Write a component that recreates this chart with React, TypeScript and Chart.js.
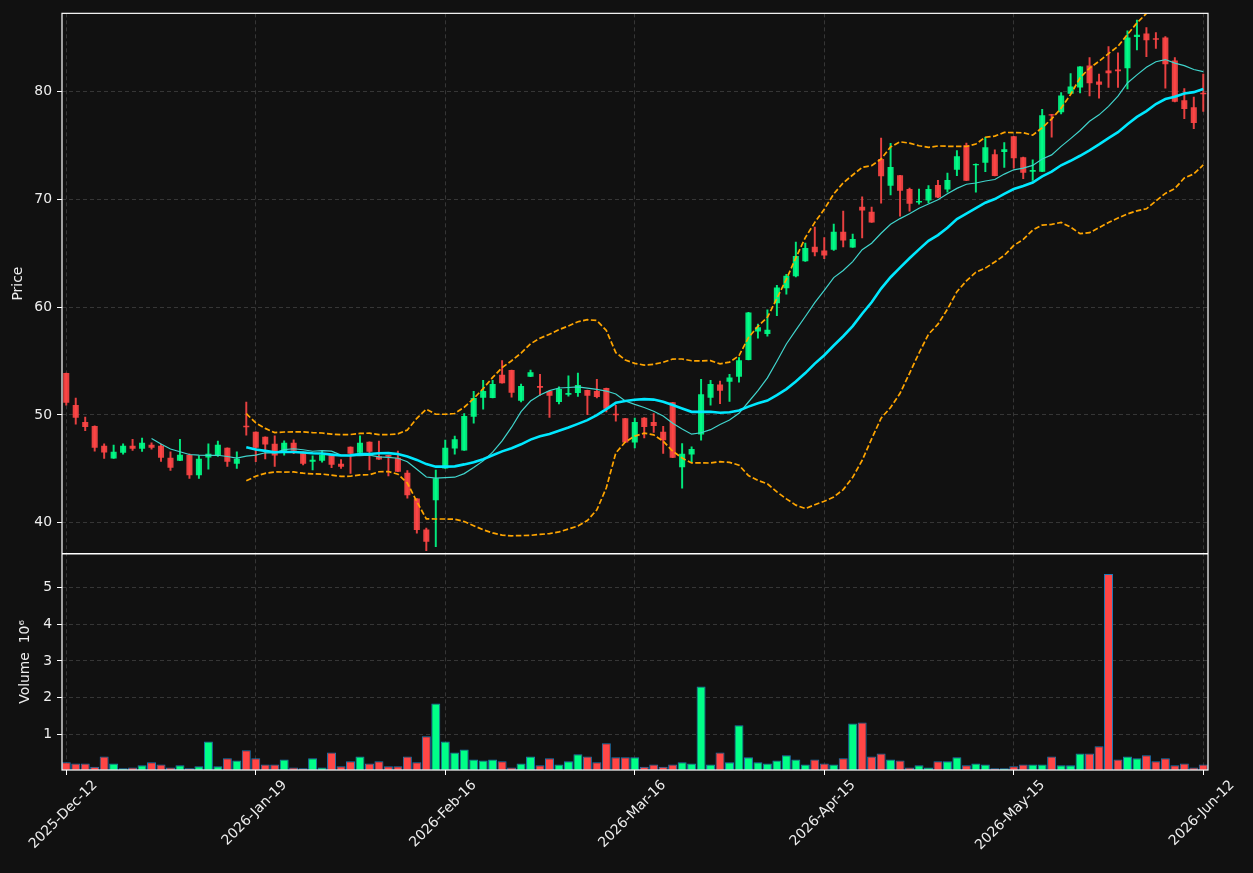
import React, { useEffect, useRef } from 'react';
import { Chart, registerables } from 'chart.js';

Chart.register(...registerables);

// ---- data ----
const opens = [
  53.88, 50.92, 49.35, 48.98, 47.14, 45.97, 46.49, 47.14, 46.86, 47.23,
  47.14, 46.03, 45.75, 46.31, 44.4, 46.06, 46.24, 46.95, 45.48, 48.92,
  48.43, 47.97, 47.32, 46.58, 47.41, 46.58, 45.66, 45.75, 46.31, 45.48,
  47.05, 46.49, 47.51, 46.18, 46.28, 46.03, 44.64, 42.24, 39.38, 42.09,
  45.04, 46.89, 46.7, 49.84, 51.6, 51.57, 53.72, 54.16, 51.32, 53.54,
  52.68, 52.22, 51.2, 51.87, 52.03, 52.31, 52.22, 52.49, 50.09, 49.69,
  47.44, 49.75, 49.35, 48.43, 51.17, 45.14, 46.34, 48.18, 51.6, 52.83,
  53.07, 53.54, 55.1, 57.73, 57.51, 60.37, 61.75, 62.86, 64.25, 65.6,
  65.26, 65.33, 66.99, 65.54, 69.3, 68.84, 73.73, 71.27, 72.23, 70.96,
  69.7, 69.88, 71.33, 70.9, 72.74, 75.02, 73.15, 73.39, 74.19, 74.4,
  75.85, 73.91, 72.56, 72.56, 77.88, 78.07, 79.8, 80.38, 82.41, 80.93,
  81.95, 82.04, 82.16, 85.06, 85.37, 84.9, 85.0, 82.87, 79.18, 78.53,
  79.85,
];
const highs = [
  53.88, 51.57, 49.8, 48.98, 47.32, 47.2, 47.32, 47.75, 47.85, 47.41,
  47.3, 46.58, 47.75, 46.4, 46.2, 47.32, 47.57, 46.95, 46.58, 51.2,
  48.43, 47.97, 48.06, 47.6, 47.69, 46.58, 46.21, 46.68, 46.31, 45.85,
  47.05, 48.06, 47.51, 47.57, 46.28, 46.65, 44.83, 42.24, 39.5, 44.89,
  47.66, 48.03, 50.12, 52.19, 53.2, 53.2, 55.05, 54.16, 52.86, 54.16,
  53.76, 52.22, 52.61, 53.63, 53.88, 52.31, 53.3, 52.49, 50.9, 49.69,
  49.72, 49.75, 50.12, 48.95, 51.17, 47.35, 47.05, 53.3, 53.2, 53.14,
  53.76, 55.33, 59.51, 58.43, 59.76, 62.03, 63.05, 66.04, 65.95, 67.42,
  66.44, 67.7, 68.9, 66.78, 70.22, 69.27, 75.67, 75.2, 72.23, 71.05,
  70.96, 71.27, 71.76, 72.44, 74.53, 75.21, 73.3, 75.76, 74.59, 75.27,
  75.85, 73.91, 73.67, 78.35, 77.88, 79.89, 81.67, 82.32, 83.15, 81.61,
  84.16, 83.58, 85.62, 86.62, 85.92, 85.46, 85.09, 83.15, 80.26, 79.48,
  81.61,
];
const lows = [
  50.9, 49.14, 48.55, 46.65, 45.97, 45.97, 46.37, 46.7, 46.61, 46.83,
  45.69, 44.86, 45.75, 44.12, 44.12, 44.98, 46.15, 45.23, 45.05, 48.13,
  45.66, 45.91, 45.23, 46.28, 46.4, 45.36, 44.89, 45.63, 45.11, 45.05,
  44.58, 46.49, 44.89, 45.87, 44.34, 44.74, 42.27, 39.04, 37.41, 37.78,
  45.04, 46.37, 46.7, 49.23, 50.53, 51.57, 52.95, 51.66, 51.2, 53.54,
  51.82, 49.78, 51.02, 51.75, 51.72, 50.03, 51.57, 50.28, 49.42, 47.44,
  46.95, 47.88, 48.37, 46.43, 46.03, 43.2, 45.66, 47.66, 50.9, 51.05,
  51.26, 53.05, 55.1, 57.11, 57.3, 59.2, 61.2, 62.8, 64.25, 64.75,
  64.5, 65.26, 65.58, 65.54, 66.41, 67.85, 69.64, 70.41, 68.44, 68.9,
  69.55, 69.67, 70.16, 70.66, 72.19, 71.73, 70.66, 72.56, 72.16, 72.96,
  72.9, 71.91, 71.76, 72.56, 75.76, 77.91, 79.8, 79.86, 79.58, 79.39,
  80.38, 80.38, 80.25, 83.86, 83.24, 84.0, 80.3, 79.04, 77.49, 76.56,
  78.16,
];
const closes = [
  51.14, 49.75, 48.89, 46.95, 46.52, 46.58, 47.14, 46.86, 47.41, 46.95,
  46.03, 45.11, 46.31, 44.4, 45.94, 46.4, 47.23, 45.66, 45.94, 48.86,
  46.95, 47.26, 46.24, 47.41, 46.68, 45.48, 45.85, 46.31, 45.38, 45.2,
  46.4, 47.41, 46.58, 45.87, 46.12, 44.74, 42.55, 39.32, 38.25, 44.12,
  46.95, 47.75, 49.91, 51.57, 52.22, 52.86, 52.95, 52.06, 52.68, 53.97,
  52.52, 51.78, 52.4, 52.03, 52.77, 51.78, 51.66, 50.58, 49.97, 47.44,
  49.35, 48.89, 48.98, 47.66, 46.03, 46.4, 46.83, 51.91, 52.86, 52.24,
  53.48, 55.08, 59.51, 58.13, 57.91, 61.82, 62.9, 64.75, 65.48, 65.08,
  64.8, 66.99, 66.19, 66.32, 68.96, 67.85, 72.13, 72.99, 70.8, 69.6,
  69.85, 70.96, 70.16, 71.79, 74.0, 71.73, 73.27, 74.84, 72.16, 74.65,
  73.82, 72.47, 72.71, 77.79, 77.77, 79.64, 80.46, 82.32, 80.77, 80.62,
  81.7, 81.88, 85.0, 85.27, 84.75, 84.8, 82.53, 79.04, 78.38, 77.08,
  79.75,
];
// volume in millions
const volumes = [
  0.23, 0.2, 0.2, 0.11, 0.39, 0.2, 0.065, 0.09, 0.15, 0.23,
  0.17, 0.09, 0.15, 0.065, 0.12, 0.8, 0.12, 0.34, 0.28, 0.56,
  0.34, 0.17, 0.17, 0.31, 0.09, 0.065, 0.34, 0.09, 0.5, 0.12,
  0.26, 0.39, 0.2, 0.26, 0.12, 0.12, 0.39, 0.23, 0.94, 1.84,
  0.8, 0.5, 0.58, 0.31, 0.28, 0.31, 0.26, 0.09, 0.2, 0.39,
  0.15, 0.34, 0.17, 0.26, 0.45, 0.39, 0.23, 0.75, 0.37, 0.37,
  0.37, 0.11, 0.17, 0.11, 0.17, 0.23, 0.2, 2.3, 0.17, 0.5,
  0.23, 1.24, 0.37, 0.23, 0.2, 0.28, 0.42, 0.31, 0.17, 0.31,
  0.2, 0.17, 0.34, 1.29, 1.32, 0.39, 0.47, 0.31, 0.28, 0.09,
  0.15, 0.09, 0.26, 0.26, 0.37, 0.15, 0.2, 0.17, 0.065, 0.065,
  0.12, 0.17, 0.17, 0.17, 0.39, 0.15, 0.15, 0.47, 0.47, 0.67,
  5.38, 0.31, 0.39, 0.34, 0.42, 0.26, 0.34, 0.15, 0.2, 0.09,
  0.17,
];
const tickIndex = [0, 20, 40, 60, 80, 100, 120];
const tickLabels = ['2025-Dec-12', '2026-Jan-19', '2026-Feb-16', '2026-Mar-16', '2026-Apr-15', '2026-May-15', '2026-Jun-12'];
const priceTicks = [40, 50, 60, 70, 80];
const volumeTicks = [1, 2, 3, 4, 5];
const maShortPeriod = 10;
const maLongPeriod = 20;
const bandWidthStd = 2;

// ---- indicators derived from the close array ----
function movingAverage(values: number[], n: number) {
  const out: { x: number; y: number }[] = [];
  for (let i = n - 1; i < values.length; i++) {
    let s = 0;
    for (let j = i - n + 1; j <= i; j++) s += values[j];
    out.push({ x: i, y: s / n });
  }
  return out;
}
function bollinger(values: number[], n: number, k: number, sign: number) {
  const out: { x: number; y: number }[] = [];
  for (let i = n - 1; i < values.length; i++) {
    let s = 0;
    for (let j = i - n + 1; j <= i; j++) s += values[j];
    const m = s / n;
    let v = 0;
    for (let j = i - n + 1; j <= i; j++) v += (values[j] - m) * (values[j] - m);
    out.push({ x: i, y: m + sign * k * Math.sqrt(v / n) });
  }
  return out;
}

const UP = '#00ff88';
const DOWN = '#ff4646';
const UP_C = 'rgba(0,255,136,0.9)';
const DOWN_C = 'rgba(255,70,70,0.9)';
const TEXT = '#eeeeee';
const GRID = 'rgba(255,255,255,0.2)';
const FONT = { family: 'DejaVu Sans', size: 13.9 };

export default function App() {
  const ref = useRef<HTMLCanvasElement | null>(null);
  useEffect(() => {
    if (!ref.current) return;
    const isUp = closes.map((c, i) => c >= opens[i]);
    const candleColors = isUp.map((u) => (u ? UP_C : DOWN_C));
    const volColors = isUp.map((u) => (u ? UP : DOWN));

    const bgPlugin = {
      id: 'bg',
      beforeDraw(chart: any) {
        const { ctx, width, height } = chart;
        ctx.save();
        ctx.fillStyle = '#111111';
        ctx.fillRect(0, 0, width, height);
        ctx.restore();
      },
    };
    const spinePlugin = {
      id: 'spines',
      afterDraw(chart: any) {
        const { ctx, chartArea } = chart;
        const yP = chart.scales.y;
        ctx.save();
        ctx.strokeStyle = '#ffffff';
        ctx.lineWidth = 1.2;
        ctx.strokeRect(chartArea.left, chartArea.top, chartArea.right - chartArea.left, chartArea.bottom - chartArea.top);
        ctx.beginPath();
        ctx.moveTo(chartArea.left, yP.bottom);
        ctx.lineTo(chartArea.right, yP.bottom);
        ctx.lineWidth = 1.6;
        ctx.stroke();
        ctx.restore();
      },
    };

    const chart = new Chart(ref.current, {
      type: 'bar',
      data: {
        datasets: [
          {
            type: 'line',
            label: 'MA20',
            data: movingAverage(closes, maLongPeriod),
            borderColor: '#00e8ff',
            borderWidth: 2.6,
            pointRadius: 0,
            yAxisID: 'y',
            order: 0,
          } as any,
          {
            type: 'line',
            label: 'MA10',
            data: movingAverage(closes, maShortPeriod),
            borderColor: '#40d4cc',
            borderWidth: 1.2,
            pointRadius: 0,
            yAxisID: 'y',
            order: 1,
          },
          {
            type: 'line',
            label: 'BB upper',
            data: bollinger(closes, maLongPeriod, bandWidthStd, 1),
            borderColor: '#ffa500',
            borderWidth: 1.7,
            borderDash: [5.5, 2.4],
            pointRadius: 0,
            yAxisID: 'y',
            order: 2,
          },
          {
            type: 'line',
            label: 'BB lower',
            data: bollinger(closes, maLongPeriod, bandWidthStd, -1),
            borderColor: '#ffa500',
            borderWidth: 1.7,
            borderDash: [5.5, 2.4],
            pointRadius: 0,
            yAxisID: 'y',
            order: 2,
          },
          {
            type: 'bar',
            label: 'body',
            data: opens.map((o, i) => ({ x: i, y: [o, closes[i]] })),
            backgroundColor: candleColors,
            borderWidth: 0,
            barPercentage: 0.64,
            categoryPercentage: 1,
            grouped: false,
            minBarLength: 1.4,
            yAxisID: 'y',
            order: 3,
          } as any,
          {
            type: 'bar',
            label: 'wick',
            data: lows.map((l, i) => ({ x: i, y: [l, highs[i]] })),
            backgroundColor: candleColors,
            borderWidth: 0,
            barThickness: 1.3,
            grouped: false,
            yAxisID: 'y',
            order: 4,
          } as any,
          {
            type: 'bar',
            label: 'volume',
            data: volumes.map((v, i) => ({ x: i, y: v })),
            backgroundColor: volColors,
            borderColor: '#1f77b4',
            borderWidth: 1,
            borderSkipped: false,
            barPercentage: 0.95,
            categoryPercentage: 1,
            grouped: false,
            yAxisID: 'yVol',
            order: 5,
          } as any,
        ],
      },
      options: {
        animation: false,
        responsive: false,
        devicePixelRatio: 1,
        layout: { padding: { left: 0, top: 10, right: 45, bottom: 0 } },
        plugins: { legend: { display: false }, tooltip: { enabled: false } },
        events: [],
        scales: {
          x: {
            type: 'linear',
            position: 'bottom',
            offset: false,
            min: -0.45,
            max: 120.5,
            afterBuildTicks: (s: any) => {
              s.ticks = tickIndex.map((v) => ({ value: v }));
            },
            afterFit: (s: any) => {
              s.height = 103;
            },
            grid: { offset: false, color: GRID, lineWidth: 0.8, tickLength: 5, tickColor: '#ffffff', tickWidth: 1, tickBorderDash: [] },
            border: { display: false, dash: [4, 3] },
            ticks: {
              autoSkip: false,
              minRotation: 45,
              maxRotation: 45,
              labelOffset: 29,
              padding: 2,
              color: TEXT,
              font: FONT,
              callback: (v: any) => {
                const k = tickIndex.indexOf(Number(v));
                return k >= 0 ? tickLabels[k] : '';
              },
            },
          },
          y: {
            type: 'linear',
            position: 'left',
            stack: 'panes',
            stackWeight: 5,
            weight: 1,
            min: 37.12,
            max: 87.25,
            afterBuildTicks: (s: any) => {
              s.ticks = priceTicks.map((v) => ({ value: v }));
            },
            afterFit: (s: any) => {
              s.width = 62;
            },
            grid: { color: GRID, lineWidth: 0.8, tickLength: 5, tickColor: '#ffffff', tickWidth: 1, tickBorderDash: [] },
            border: { display: false, dash: [4, 3] },
            ticks: { color: TEXT, font: FONT, padding: 5 },
            title: { display: true, text: 'Price', color: TEXT, font: FONT, padding: { top: 9.7, bottom: 0 } },
          },
          yVol: {
            type: 'linear',
            position: 'left',
            stack: 'panes',
            stackWeight: 2,
            weight: 0,
            min: 0.02,
            max: 5.93,
            afterBuildTicks: (s: any) => {
              s.ticks = volumeTicks.map((v) => ({ value: v }));
            },
            afterFit: (s: any) => {
              s.width = 62;
            },
            grid: { color: GRID, lineWidth: 0.8, tickLength: 5, tickColor: '#ffffff', tickWidth: 1, tickBorderDash: [] },
            border: { display: false, dash: [4, 3] },
            ticks: { color: TEXT, font: FONT, padding: 5 },
            title: { display: true, text: 'Volume  10⁶', color: TEXT, font: FONT, padding: { top: 17, bottom: 0 } },
          },
        },
      } as any,
      plugins: [bgPlugin, spinePlugin],
    });
    return () => chart.destroy();
  }, []);

  return (
    <div style={{ position: 'absolute', left: 0, top: 0, width: 1253, height: 873, background: '#111111' }}>
      <canvas ref={ref} width={1253} height={873} style={{ display: 'block', width: 1253, height: 873 }} />
    </div>
  );
}
